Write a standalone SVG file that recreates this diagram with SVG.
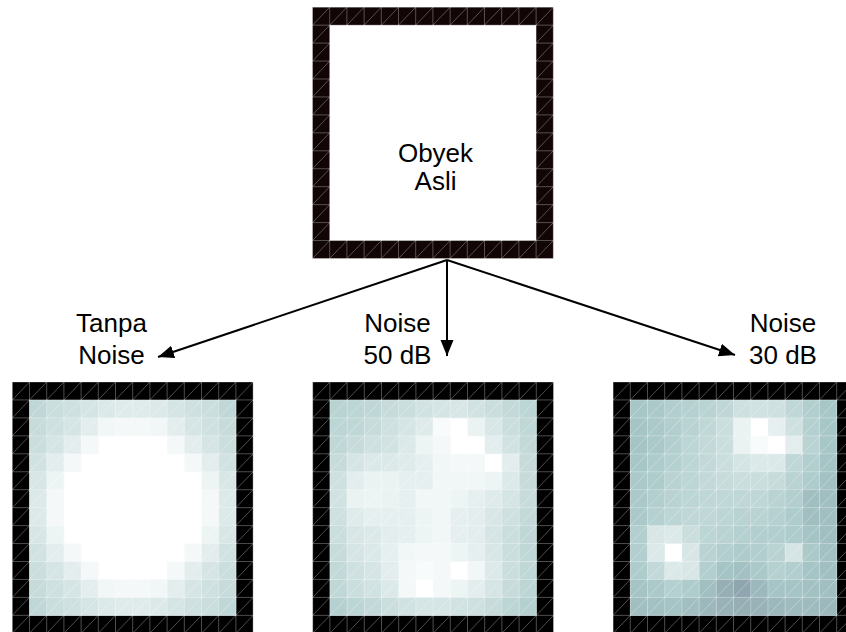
<svg xmlns="http://www.w3.org/2000/svg" xmlns:xlink="http://www.w3.org/1999/xlink" width="846" height="632" viewBox="0 0 846 632">
<style>
text{font-family:"Liberation Sans",Arial,sans-serif;font-size:26px;fill:#000;text-anchor:middle}
.grid{fill:none;stroke:#fff;stroke-opacity:.38;stroke-width:.8}
.conn{stroke:#000;stroke-width:2;fill:none;marker-end:url(#ah)}
.v64{fill:#8fa5af}.v65{fill:#91a8b1}.v66{fill:#93abb3}.v67{fill:#95afb5}.v68{fill:#98b2b8}.v69{fill:#9ab5ba}
.v70{fill:#9cb8bc}.v71{fill:#9ebbbe}.v72{fill:#a1bec0}.v73{fill:#a3c1c3}.v74{fill:#a5c4c5}.v75{fill:#a7c7c7}
.v76{fill:#abc9c9}.v77{fill:#aecccc}.v78{fill:#b2cece}.v79{fill:#b5d0d0}.v80{fill:#b9d2d2}.v81{fill:#bcd5d5}
.v82{fill:#c0d7d7}.v83{fill:#c3d9d9}.v84{fill:#c7dbdb}.v85{fill:#cadede}.v86{fill:#cee0e0}.v87{fill:#d1e2e2}
.v88{fill:#d5e4e4}.v89{fill:#d8e6e6}.v90{fill:#dce9e9}.v91{fill:#dfebeb}.v92{fill:#e3eded}.v93{fill:#e6efef}
.v94{fill:#eaf2f2}.v95{fill:#edf4f4}.v96{fill:#f1f6f6}.v97{fill:#f4f8f8}.v98{fill:#f8fbfb}.v99{fill:#fbfdfd}.v100{fill:#fff}
</style>
<defs>
<rect id="u" width="1.02" height="1.02"/>
<path id="g" vector-effect="non-scaling-stroke" d="M0 0H14M0 1H14M0 2H14M0 3H14M0 4H14M0 5H14M0 6H14M0 7H14M0 8H14M0 9H14M0 10H14M0 11H14M0 12H14M0 13H14M0 14H14M0 0V14M1 0V14M2 0V14M3 0V14M4 0V14M5 0V14M6 0V14M7 0V14M8 0V14M9 0V14M10 0V14M11 0V14M12 0V14M13 0V14M14 0V14M0 1L1 0M0 2L2 0M0 3L3 0M0 4L4 0M0 5L5 0M0 6L6 0M0 7L7 0M0 8L8 0M0 9L9 0M0 10L10 0M0 11L11 0M0 12L12 0M0 13L13 0M0 14L14 0M1 14L14 1M2 14L14 2M3 14L14 3M4 14L14 4M5 14L14 5M6 14L14 6M7 14L14 7M8 14L14 8M9 14L14 9M10 14L14 10M11 14L14 11M12 14L14 12M13 14L14 13"/>
<marker id="ah" markerUnits="userSpaceOnUse" markerWidth="17" markerHeight="15" refX="16" refY="7.5" orient="auto"><path d="M0 1L16 7.5L0 14z" fill="#000"/></marker>
</defs>

<g id="node-asli">
<g transform="translate(312.5 7.2) scale(17.2 17.95)">
<rect width="14" height="14" fill="#110505"/>
<rect x="1" y="1" width="12" height="12" fill="#fff"/>
<use href="#g" class="grid"/>
</g>
<text x="435.5" y="162">Obyek</text>
<text x="435.5" y="190">Asli</text>
</g>

<g id="node-tanpa-noise">
<text x="111.5" y="332">Tanpa</text>
<text x="111.5" y="364">Noise</text>
<g transform="translate(12.3 382) scale(17.2 17.95)">
<rect width="14" height="14" fill="#000"/>
<rect x="1" y="1" width="12" height="12" fill="#fff"/>
<use href="#u" x="1" y="1" class="v82"/><use href="#u" x="2" y="1" class="v85"/><use href="#u" x="3" y="1" class="v86"/><use href="#u" x="4" y="1" class="v88"/><use href="#u" x="5" y="1" class="v90"/><use href="#u" x="6" y="1" class="v91"/><use href="#u" x="7" y="1" class="v91"/><use href="#u" x="8" y="1" class="v90"/><use href="#u" x="9" y="1" class="v88"/><use href="#u" x="10" y="1" class="v86"/><use href="#u" x="11" y="1" class="v85"/><use href="#u" x="12" y="1" class="v82"/>
<use href="#u" x="1" y="2" class="v84"/><use href="#u" x="2" y="2" class="v86"/><use href="#u" x="3" y="2" class="v88"/><use href="#u" x="4" y="2" class="v92"/><use href="#u" x="5" y="2" class="v96"/><use href="#u" x="6" y="2" class="v97"/><use href="#u" x="7" y="2" class="v97"/><use href="#u" x="8" y="2" class="v96"/><use href="#u" x="9" y="2" class="v92"/><use href="#u" x="10" y="2" class="v88"/><use href="#u" x="11" y="2" class="v86"/><use href="#u" x="12" y="2" class="v84"/>
<use href="#u" x="1" y="3" class="v85"/><use href="#u" x="2" y="3" class="v88"/><use href="#u" x="3" y="3" class="v92"/><use href="#u" x="4" y="3" class="v97"/><use href="#u" x="9" y="3" class="v97"/><use href="#u" x="10" y="3" class="v92"/><use href="#u" x="11" y="3" class="v88"/><use href="#u" x="12" y="3" class="v85"/>
<use href="#u" x="1" y="4" class="v87"/><use href="#u" x="2" y="4" class="v92"/><use href="#u" x="3" y="4" class="v97"/><use href="#u" x="10" y="4" class="v97"/><use href="#u" x="11" y="4" class="v92"/><use href="#u" x="12" y="4" class="v87"/>
<use href="#u" x="1" y="5" class="v89"/><use href="#u" x="2" y="5" class="v95"/><use href="#u" x="11" y="5" class="v95"/><use href="#u" x="12" y="5" class="v89"/>
<use href="#u" x="1" y="6" class="v90"/><use href="#u" x="2" y="6" class="v97"/><use href="#u" x="11" y="6" class="v97"/><use href="#u" x="12" y="6" class="v90"/>
<use href="#u" x="1" y="7" class="v90"/><use href="#u" x="2" y="7" class="v97"/><use href="#u" x="11" y="7" class="v97"/><use href="#u" x="12" y="7" class="v90"/>
<use href="#u" x="1" y="8" class="v89"/><use href="#u" x="2" y="8" class="v95"/><use href="#u" x="11" y="8" class="v95"/><use href="#u" x="12" y="8" class="v89"/>
<use href="#u" x="1" y="9" class="v87"/><use href="#u" x="2" y="9" class="v92"/><use href="#u" x="3" y="9" class="v97"/><use href="#u" x="10" y="9" class="v97"/><use href="#u" x="11" y="9" class="v92"/><use href="#u" x="12" y="9" class="v87"/>
<use href="#u" x="1" y="10" class="v85"/><use href="#u" x="2" y="10" class="v88"/><use href="#u" x="3" y="10" class="v92"/><use href="#u" x="4" y="10" class="v97"/><use href="#u" x="9" y="10" class="v97"/><use href="#u" x="10" y="10" class="v92"/><use href="#u" x="11" y="10" class="v88"/><use href="#u" x="12" y="10" class="v85"/>
<use href="#u" x="1" y="11" class="v84"/><use href="#u" x="2" y="11" class="v86"/><use href="#u" x="3" y="11" class="v88"/><use href="#u" x="4" y="11" class="v92"/><use href="#u" x="5" y="11" class="v96"/><use href="#u" x="6" y="11" class="v97"/><use href="#u" x="7" y="11" class="v97"/><use href="#u" x="8" y="11" class="v96"/><use href="#u" x="9" y="11" class="v92"/><use href="#u" x="10" y="11" class="v88"/><use href="#u" x="11" y="11" class="v86"/><use href="#u" x="12" y="11" class="v84"/>
<use href="#u" x="1" y="12" class="v82"/><use href="#u" x="2" y="12" class="v85"/><use href="#u" x="3" y="12" class="v86"/><use href="#u" x="4" y="12" class="v88"/><use href="#u" x="5" y="12" class="v90"/><use href="#u" x="6" y="12" class="v91"/><use href="#u" x="7" y="12" class="v91"/><use href="#u" x="8" y="12" class="v90"/><use href="#u" x="9" y="12" class="v88"/><use href="#u" x="10" y="12" class="v86"/><use href="#u" x="11" y="12" class="v85"/><use href="#u" x="12" y="12" class="v82"/>
<use href="#g" class="grid"/>
</g>
</g>

<g id="node-noise-50db">
<text x="397.5" y="332">Noise</text>
<text x="397.5" y="364">50 dB</text>
<g transform="translate(312.7 382) scale(17.2 17.95)">
<rect width="14" height="14" fill="#000"/>
<rect x="1" y="1" width="12" height="12" fill="#fff"/>
<use href="#u" x="1" y="1" class="v80"/><use href="#u" x="2" y="1" class="v81"/><use href="#u" x="3" y="1" class="v82"/><use href="#u" x="4" y="1" class="v84"/><use href="#u" x="5" y="1" class="v85"/><use href="#u" x="6" y="1" class="v87"/><use href="#u" x="7" y="1" class="v88"/><use href="#u" x="8" y="1" class="v89"/><use href="#u" x="9" y="1" class="v87"/><use href="#u" x="10" y="1" class="v85"/><use href="#u" x="11" y="1" class="v83"/><use href="#u" x="12" y="1" class="v81"/>
<use href="#u" x="1" y="2" class="v81"/><use href="#u" x="2" y="2" class="v82"/><use href="#u" x="3" y="2" class="v84"/><use href="#u" x="4" y="2" class="v86"/><use href="#u" x="5" y="2" class="v88"/><use href="#u" x="6" y="2" class="v91"/><use href="#u" x="7" y="2" class="v98"/><use href="#u" x="9" y="2" class="v94"/><use href="#u" x="10" y="2" class="v89"/><use href="#u" x="11" y="2" class="v85"/><use href="#u" x="12" y="2" class="v82"/>
<use href="#u" x="1" y="3" class="v82"/><use href="#u" x="2" y="3" class="v84"/><use href="#u" x="3" y="3" class="v86"/><use href="#u" x="4" y="3" class="v87"/><use href="#u" x="5" y="3" class="v90"/><use href="#u" x="6" y="3" class="v95"/><use href="#u" x="7" y="3" class="v97"/><use href="#u" x="10" y="3" class="v92"/><use href="#u" x="11" y="3" class="v87"/><use href="#u" x="12" y="3" class="v83"/>
<use href="#u" x="1" y="4" class="v84"/><use href="#u" x="2" y="4" class="v88"/><use href="#u" x="3" y="4" class="v90"/><use href="#u" x="4" y="4" class="v90"/><use href="#u" x="5" y="4" class="v91"/><use href="#u" x="6" y="4" class="v93"/><use href="#u" x="7" y="4" class="v96"/><use href="#u" x="8" y="4" class="v97"/><use href="#u" x="9" y="4" class="v97"/><use href="#u" x="11" y="4" class="v92"/><use href="#u" x="12" y="4" class="v84"/>
<use href="#u" x="1" y="5" class="v86"/><use href="#u" x="2" y="5" class="v92"/><use href="#u" x="3" y="5" class="v94"/><use href="#u" x="4" y="5" class="v94"/><use href="#u" x="5" y="5" class="v93"/><use href="#u" x="6" y="5" class="v93"/><use href="#u" x="7" y="5" class="v96"/><use href="#u" x="8" y="5" class="v96"/><use href="#u" x="9" y="5" class="v96"/><use href="#u" x="10" y="5" class="v95"/><use href="#u" x="11" y="5" class="v90"/><use href="#u" x="12" y="5" class="v84"/>
<use href="#u" x="1" y="6" class="v87"/><use href="#u" x="2" y="6" class="v94"/><use href="#u" x="3" y="6" class="v95"/><use href="#u" x="4" y="6" class="v94"/><use href="#u" x="5" y="6" class="v93"/><use href="#u" x="6" y="6" class="v96"/><use href="#u" x="7" y="6" class="v96"/><use href="#u" x="8" y="6" class="v95"/><use href="#u" x="9" y="6" class="v93"/><use href="#u" x="10" y="6" class="v91"/><use href="#u" x="11" y="6" class="v88"/><use href="#u" x="12" y="6" class="v84"/>
<use href="#u" x="1" y="7" class="v86"/><use href="#u" x="2" y="7" class="v91"/><use href="#u" x="3" y="7" class="v93"/><use href="#u" x="4" y="7" class="v93"/><use href="#u" x="5" y="7" class="v93"/><use href="#u" x="6" y="7" class="v95"/><use href="#u" x="7" y="7" class="v96"/><use href="#u" x="8" y="7" class="v93"/><use href="#u" x="9" y="7" class="v92"/><use href="#u" x="10" y="7" class="v89"/><use href="#u" x="11" y="7" class="v86"/><use href="#u" x="12" y="7" class="v83"/>
<use href="#u" x="1" y="8" class="v85"/><use href="#u" x="2" y="8" class="v89"/><use href="#u" x="3" y="8" class="v90"/><use href="#u" x="4" y="8" class="v92"/><use href="#u" x="5" y="8" class="v93"/><use href="#u" x="6" y="8" class="v95"/><use href="#u" x="7" y="8" class="v96"/><use href="#u" x="8" y="8" class="v93"/><use href="#u" x="9" y="8" class="v92"/><use href="#u" x="10" y="8" class="v88"/><use href="#u" x="11" y="8" class="v85"/><use href="#u" x="12" y="8" class="v82"/>
<use href="#u" x="1" y="9" class="v84"/><use href="#u" x="2" y="9" class="v88"/><use href="#u" x="3" y="9" class="v90"/><use href="#u" x="4" y="9" class="v93"/><use href="#u" x="5" y="9" class="v96"/><use href="#u" x="6" y="9" class="v97"/><use href="#u" x="7" y="9" class="v97"/><use href="#u" x="8" y="9" class="v95"/><use href="#u" x="9" y="9" class="v93"/><use href="#u" x="10" y="9" class="v89"/><use href="#u" x="11" y="9" class="v85"/><use href="#u" x="12" y="9" class="v82"/>
<use href="#u" x="1" y="10" class="v83"/><use href="#u" x="2" y="10" class="v86"/><use href="#u" x="3" y="10" class="v88"/><use href="#u" x="4" y="10" class="v92"/><use href="#u" x="5" y="10" class="v97"/><use href="#u" x="6" y="10" class="v98"/><use href="#u" x="7" y="10" class="v97"/><use href="#u" x="9" y="10" class="v96"/><use href="#u" x="10" y="10" class="v90"/><use href="#u" x="11" y="10" class="v85"/><use href="#u" x="12" y="10" class="v82"/>
<use href="#u" x="1" y="11" class="v82"/><use href="#u" x="2" y="11" class="v85"/><use href="#u" x="3" y="11" class="v87"/><use href="#u" x="4" y="11" class="v90"/><use href="#u" x="5" y="11" class="v97"/><use href="#u" x="7" y="11" class="v97"/><use href="#u" x="8" y="11" class="v95"/><use href="#u" x="9" y="11" class="v92"/><use href="#u" x="10" y="11" class="v88"/><use href="#u" x="11" y="11" class="v84"/><use href="#u" x="12" y="11" class="v81"/>
<use href="#u" x="1" y="12" class="v79"/><use href="#u" x="2" y="12" class="v81"/><use href="#u" x="3" y="12" class="v83"/><use href="#u" x="4" y="12" class="v85"/><use href="#u" x="5" y="12" class="v87"/><use href="#u" x="6" y="12" class="v88"/><use href="#u" x="7" y="12" class="v88"/><use href="#u" x="8" y="12" class="v87"/><use href="#u" x="9" y="12" class="v86"/><use href="#u" x="10" y="12" class="v84"/><use href="#u" x="11" y="12" class="v81"/><use href="#u" x="12" y="12" class="v79"/>
<use href="#g" class="grid"/>
</g>
</g>

<g id="node-noise-30db">
<text x="783" y="332">Noise</text>
<text x="783" y="364">30 dB</text>
<g transform="translate(613.1 382) scale(17.2 17.95)">
<rect width="14" height="14" fill="#000"/>
<rect x="1" y="1" width="12" height="12" fill="#fff"/>
<use href="#u" x="1" y="1" class="v75"/><use href="#u" x="2" y="1" class="v76"/><use href="#u" x="3" y="1" class="v78"/><use href="#u" x="4" y="1" class="v79"/><use href="#u" x="5" y="1" class="v80"/><use href="#u" x="6" y="1" class="v82"/><use href="#u" x="7" y="1" class="v86"/><use href="#u" x="8" y="1" class="v87"/><use href="#u" x="9" y="1" class="v86"/><use href="#u" x="10" y="1" class="v82"/><use href="#u" x="11" y="1" class="v78"/><use href="#u" x="12" y="1" class="v75"/>
<use href="#u" x="1" y="2" class="v74"/><use href="#u" x="2" y="2" class="v76"/><use href="#u" x="3" y="2" class="v78"/><use href="#u" x="4" y="2" class="v80"/><use href="#u" x="5" y="2" class="v82"/><use href="#u" x="6" y="2" class="v85"/><use href="#u" x="7" y="2" class="v94"/><use href="#u" x="9" y="2" class="v93"/><use href="#u" x="10" y="2" class="v86"/><use href="#u" x="11" y="2" class="v79"/><use href="#u" x="12" y="2" class="v75"/>
<use href="#u" x="1" y="3" class="v74"/><use href="#u" x="2" y="3" class="v76"/><use href="#u" x="3" y="3" class="v78"/><use href="#u" x="4" y="3" class="v81"/><use href="#u" x="5" y="3" class="v83"/><use href="#u" x="6" y="3" class="v85"/><use href="#u" x="7" y="3" class="v94"/><use href="#u" x="8" y="3" class="v98"/><use href="#u" x="10" y="3" class="v92"/><use href="#u" x="11" y="3" class="v80"/><use href="#u" x="12" y="3" class="v75"/>
<use href="#u" x="1" y="4" class="v75"/><use href="#u" x="2" y="4" class="v77"/><use href="#u" x="3" y="4" class="v79"/><use href="#u" x="4" y="4" class="v81"/><use href="#u" x="5" y="4" class="v83"/><use href="#u" x="6" y="4" class="v85"/><use href="#u" x="7" y="4" class="v88"/><use href="#u" x="8" y="4" class="v90"/><use href="#u" x="9" y="4" class="v90"/><use href="#u" x="10" y="4" class="v82"/><use href="#u" x="11" y="4" class="v78"/><use href="#u" x="12" y="4" class="v74"/>
<use href="#u" x="1" y="5" class="v76"/><use href="#u" x="2" y="5" class="v77"/><use href="#u" x="3" y="5" class="v80"/><use href="#u" x="4" y="5" class="v81"/><use href="#u" x="5" y="5" class="v83"/><use href="#u" x="6" y="5" class="v84"/><use href="#u" x="7" y="5" class="v85"/><use href="#u" x="8" y="5" class="v85"/><use href="#u" x="9" y="5" class="v84"/><use href="#u" x="10" y="5" class="v80"/><use href="#u" x="11" y="5" class="v77"/><use href="#u" x="12" y="5" class="v73"/>
<use href="#u" x="1" y="6" class="v76"/><use href="#u" x="2" y="6" class="v78"/><use href="#u" x="3" y="6" class="v80"/><use href="#u" x="4" y="6" class="v81"/><use href="#u" x="5" y="6" class="v82"/><use href="#u" x="6" y="6" class="v82"/><use href="#u" x="7" y="6" class="v82"/><use href="#u" x="8" y="6" class="v82"/><use href="#u" x="9" y="6" class="v80"/><use href="#u" x="10" y="6" class="v78"/><use href="#u" x="11" y="6" class="v72"/><use href="#u" x="12" y="6" class="v72"/>
<use href="#u" x="1" y="7" class="v76"/><use href="#u" x="2" y="7" class="v79"/><use href="#u" x="3" y="7" class="v81"/><use href="#u" x="4" y="7" class="v82"/><use href="#u" x="5" y="7" class="v82"/><use href="#u" x="6" y="7" class="v81"/><use href="#u" x="7" y="7" class="v80"/><use href="#u" x="8" y="7" class="v80"/><use href="#u" x="9" y="7" class="v79"/><use href="#u" x="10" y="7" class="v77"/><use href="#u" x="11" y="7" class="v72"/><use href="#u" x="12" y="7" class="v72"/>
<use href="#u" x="1" y="8" class="v78"/><use href="#u" x="2" y="8" class="v89"/><use href="#u" x="3" y="8" class="v90"/><use href="#u" x="4" y="8" class="v85"/><use href="#u" x="5" y="8" class="v81"/><use href="#u" x="6" y="8" class="v80"/><use href="#u" x="7" y="8" class="v79"/><use href="#u" x="8" y="8" class="v78"/><use href="#u" x="9" y="8" class="v78"/><use href="#u" x="10" y="8" class="v77"/><use href="#u" x="11" y="8" class="v74"/><use href="#u" x="12" y="8" class="v72"/>
<use href="#u" x="1" y="9" class="v78"/><use href="#u" x="2" y="9" class="v90"/><use href="#u" x="4" y="9" class="v89"/><use href="#u" x="5" y="9" class="v80"/><use href="#u" x="6" y="9" class="v78"/><use href="#u" x="7" y="9" class="v77"/><use href="#u" x="8" y="9" class="v78"/><use href="#u" x="9" y="9" class="v80"/><use href="#u" x="10" y="9" class="v88"/><use href="#u" x="11" y="9" class="v76"/><use href="#u" x="12" y="9" class="v73"/>
<use href="#u" x="1" y="10" class="v77"/><use href="#u" x="2" y="10" class="v83"/><use href="#u" x="3" y="10" class="v90"/><use href="#u" x="4" y="10" class="v89"/><use href="#u" x="5" y="10" class="v78"/><use href="#u" x="6" y="10" class="v74"/><use href="#u" x="7" y="10" class="v73"/><use href="#u" x="8" y="10" class="v76"/><use href="#u" x="9" y="10" class="v79"/><use href="#u" x="10" y="10" class="v78"/><use href="#u" x="11" y="10" class="v74"/><use href="#u" x="12" y="10" class="v72"/>
<use href="#u" x="1" y="11" class="v74"/><use href="#u" x="2" y="11" class="v76"/><use href="#u" x="3" y="11" class="v79"/><use href="#u" x="4" y="11" class="v77"/><use href="#u" x="5" y="11" class="v72"/><use href="#u" x="6" y="11" class="v67"/><use href="#u" x="7" y="11" class="v64"/><use href="#u" x="8" y="11" class="v70"/><use href="#u" x="9" y="11" class="v74"/><use href="#u" x="10" y="11" class="v74"/><use href="#u" x="11" y="11" class="v73"/><use href="#u" x="12" y="11" class="v72"/>
<use href="#u" x="1" y="12" class="v72"/><use href="#u" x="2" y="12" class="v73"/><use href="#u" x="3" y="12" class="v74"/><use href="#u" x="4" y="12" class="v72"/><use href="#u" x="5" y="12" class="v70"/><use href="#u" x="6" y="12" class="v68"/><use href="#u" x="7" y="12" class="v67"/><use href="#u" x="8" y="12" class="v68"/><use href="#u" x="9" y="12" class="v70"/><use href="#u" x="10" y="12" class="v71"/><use href="#u" x="11" y="12" class="v71"/><use href="#u" x="12" y="12" class="v70"/>
<use href="#g" class="grid"/>
</g>
</g>

<g id="connectors">
<line class="conn" x1="447" y1="260" x2="158" y2="357"/>
<line class="conn" x1="447" y1="260" x2="447" y2="356"/>
<line class="conn" x1="447" y1="260" x2="735" y2="355"/>
</g>
</svg>
